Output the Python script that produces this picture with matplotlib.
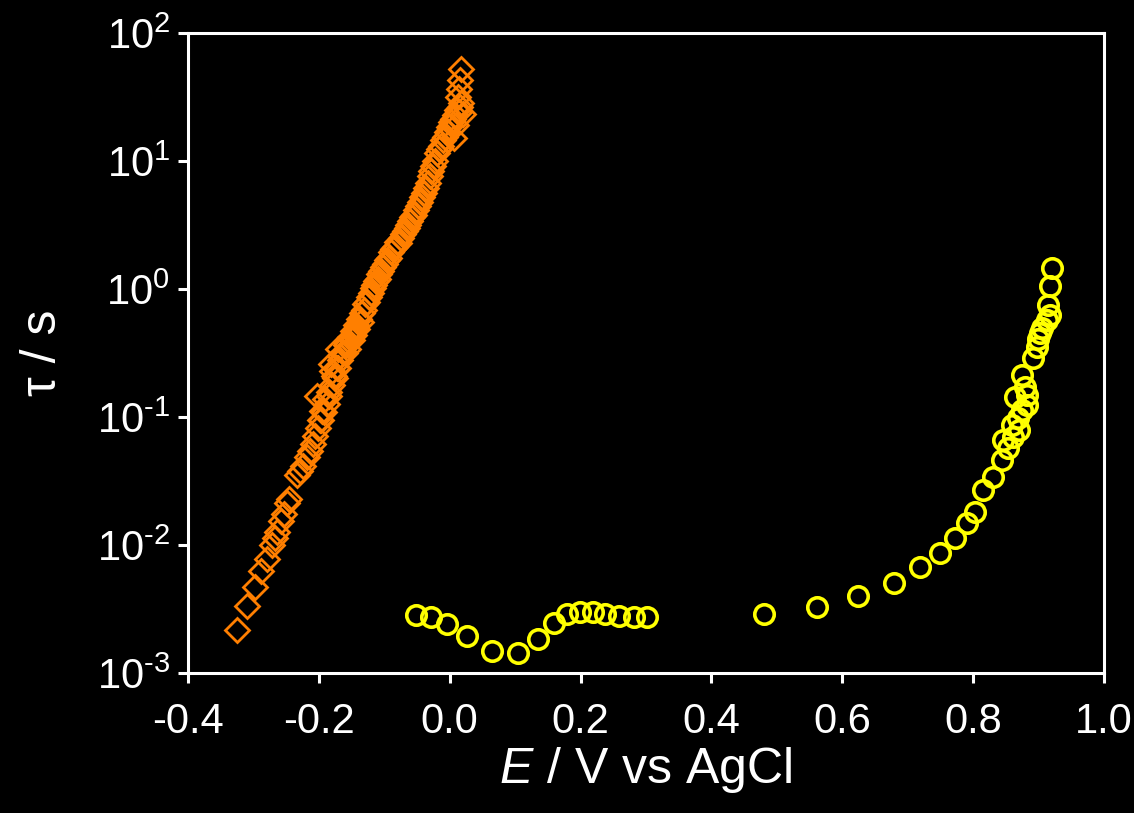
import math
import matplotlib
matplotlib.use("Agg")
import matplotlib.pyplot as plt
import matplotlib.ticker as ticker

# orange diamonds: E / V and tau / s
E_orange = [-0.325, -0.310, -0.298, -0.288, -0.279, -0.272, -0.267, -0.264, -0.258, -0.253,
            -0.249, -0.246, -0.233, -0.229, -0.224, -0.218, -0.214, -0.209, -0.206, -0.201,
            -0.197, -0.192, -0.188, -0.185, -0.180, -0.177, -0.172, -0.168, -0.163, -0.159,
            -0.170, -0.175, -0.180, -0.168, -0.185, -0.190, -0.203, -0.195, -0.199, -0.182, -0.171,
            -0.160, -0.158, -0.155, -0.153, -0.150, -0.148, -0.146, -0.143, -0.141, -0.139,
            -0.136, -0.134, -0.131, -0.129, -0.126, -0.124, -0.121, -0.118, -0.116, -0.113,
            -0.110, -0.108, -0.105, -0.102, -0.099, -0.096, -0.093, -0.090, -0.087, -0.084,
            -0.081, -0.078, -0.075, -0.072, -0.069, -0.066, -0.063, -0.060, -0.057, -0.054,
            -0.051, -0.048, -0.045, -0.042, -0.039, -0.036, -0.033, -0.030, -0.028, -0.025,
            -0.022, -0.019, -0.016, -0.013, -0.010, -0.007, -0.004, -0.001, 0.002, 0.005,
            0.008, 0.011, 0.014, 0.016, 0.018, 0.020, 0.012, 0.014, 0.016, 0.017, 0.010, 0.006]
tau_orange = [2.17e-3, 3.33e-3, 4.70e-3, 6.26e-3, 7.78e-3, 1.00e-2, 1.13e-2, 1.26e-2, 1.54e-2, 1.75e-2,
              2.13e-2, 2.29e-2, 3.52e-2, 3.79e-2, 4.14e-2, 4.87e-2, 5.42e-2, 6.15e-2, 7.10e-2, 8.2e-2,
              9.5e-2, 0.109, 0.126, 0.146, 0.178, 0.209, 0.242, 0.279, 0.322, 0.365,
              0.24, 0.20, 0.23, 0.30, 0.158, 0.138, 0.145, 0.112, 0.095, 0.26, 0.34,
              0.316, 0.38, 0.34, 0.42, 0.40, 0.47, 0.44, 0.52, 0.49, 0.58,
              0.55, 0.65, 0.69, 0.76, 0.79, 0.87, 0.93, 1.02, 1.07, 1.15,
              1.20, 1.32, 1.38, 1.48, 1.58, 1.70, 1.74, 1.95, 2.04, 2.14,
              2.34, 2.29, 2.51, 2.69, 2.82, 3.02, 3.16, 3.39, 3.63, 3.80,
              4.17, 4.47, 4.79, 5.25, 5.62, 6.17, 6.76, 7.59, 8.32, 9.12,
              10.0, 11.5, 12.3, 13.2, 14.5, 15.5, 17.0, 18.6, 20.0, 21.4,
              22.9, 25.1, 24.0, 26.3, 28.2, 23.4, 31.6, 36.3, 42.7, 52.5, 19.1, 15.1]

# yellow circles
E_yellow = [-0.051, -0.028, -0.004, 0.026, 0.064, 0.104, 0.135, 0.159, 0.179, 0.199,
            0.219, 0.238, 0.259, 0.281, 0.301, 0.480, 0.561, 0.624, 0.679, 0.719,
            0.750, 0.773, 0.791, 0.803, 0.815, 0.831, 0.844, 0.846, 0.861, 0.859,
            0.869, 0.875, 0.882, 0.864, 0.879, 0.875, 0.892, 0.898, 0.899, 0.902,
            0.905, 0.913, 0.918, 0.914, 0.918, 0.921, 0.882, 0.870, 0.854]
tau_yellow = [2.84e-3, 2.75e-3, 2.41e-3, 1.95e-3, 1.49e-3, 1.44e-3, 1.85e-3, 2.47e-3, 2.89e-3, 3.01e-3,
              3.01e-3, 2.89e-3, 2.79e-3, 2.75e-3, 2.72e-3, 2.89e-3, 3.28e-3, 4.0e-3, 5.05e-3, 6.73e-3,
              8.66e-3, 1.135e-2, 1.49e-2, 1.82e-2, 2.69e-2, 3.4e-2, 4.61e-2, 6.6e-2, 6.98e-2, 8.66e-2,
              9.8e-2, 0.1135, 0.124, 0.143, 0.171, 0.213, 0.29, 0.35, 0.41, 0.45,
              0.50, 0.57, 0.63, 0.75, 1.055, 1.46, 0.149, 0.079, 0.057]

xticks = [-0.4, -0.2, 0.0, 0.2, 0.4, 0.6, 0.8, 1.0]

plt.rcParams['font.family'] = ['Liberation Sans', 'DejaVu Sans']
plt.rcParams['mathtext.fontset'] = 'custom'
plt.rcParams['mathtext.rm'] = 'Liberation Sans'
plt.rcParams['mathtext.it'] = 'Liberation Sans:italic'
plt.rcParams['mathtext.default'] = 'regular'
plt.rcParams['axes.unicode_minus'] = False

fig = plt.figure(figsize=(11.34, 8.13), dpi=100, facecolor='black')
ax = fig.add_axes([0.1658, 0.1722, 0.8077, 0.7872], facecolor='black')

ax.plot(E_orange, tau_orange, linestyle='none', marker='D', ms=12.5, mew=2.0,
        mfc='none', mec='#ff7f00')
ax.plot(E_yellow, tau_yellow, linestyle='none', marker='o', ms=14, mew=2.6,
        mfc='none', mec='#ffff00')


def log_label(v, pos):
    n = round(math.log10(v))
    if n < 0:
        return r"$10^{\text{-}%d}$" % (-n)
    return r"$10^{%d}$" % n


ax.set_yscale('log')
ax.set_ylim(1e-3, 1e2)
ax.set_xlim(-0.4, 1.0)
ax.set_xticks(xticks)
ax.set_xticklabels([f"{t:.1f}" for t in xticks])
ax.yaxis.set_major_locator(ticker.LogLocator(base=10, numticks=10))
ax.yaxis.set_minor_locator(ticker.NullLocator())
ax.yaxis.set_major_formatter(ticker.FuncFormatter(log_label))

for s in ax.spines.values():
    s.set_color('white')
    s.set_linewidth(2.2)
ax.tick_params(colors='white', labelsize=30, width=2.2, length=7, direction='out')
ax.tick_params(axis='x', pad=14)
ax.tick_params(axis='y', pad=6)

ax.set_xlabel(r"$\mathit{E}$ / V vs AgCl", color='white', fontsize=36, labelpad=2)
ax.set_ylabel("τ / s", color='white', fontsize=36, labelpad=22)

fig.savefig("out.png", dpi=100, facecolor='black')
